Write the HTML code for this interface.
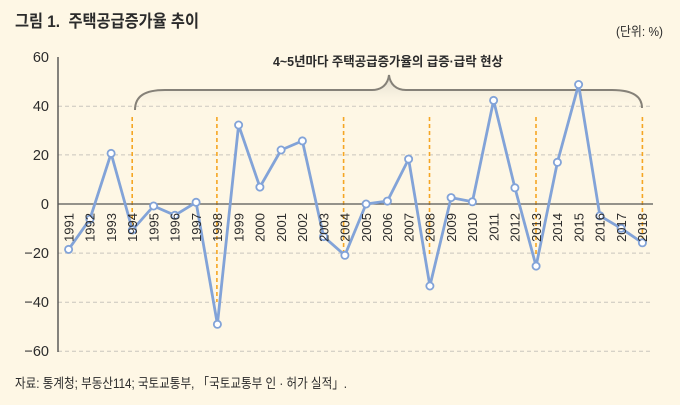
<!DOCTYPE html>
<html><head><meta charset="utf-8"><style>
html,body{margin:0;padding:0;background:#fef7e5;}
svg{display:block;}
text{font-family:"Liberation Sans","Noto Sans CJK KR",sans-serif;fill:#2b2b2b;}
</style></head><body>
<svg width="680" height="405" viewBox="0 0 680 405" xmlns="http://www.w3.org/2000/svg">
<defs>
<linearGradient id="bg" x1="0" y1="0" x2="0" y2="1">
<stop offset="0" stop-color="#cfcbc0" stop-opacity="0.75"/>
<stop offset="1" stop-color="#fef7e5" stop-opacity="0"/>
</linearGradient>
</defs>
<rect width="680" height="405" fill="#fef7e5"/>
<text x="15" y="27" font-size="17" font-weight="bold" textLength="184" lengthAdjust="spacingAndGlyphs">그림 1.&#160; 주택공급증가율 추이</text>
<text x="616" y="36" font-size="13" textLength="47" lengthAdjust="spacingAndGlyphs" fill="#444">(단위: %)</text>

<!-- grid -->
<g stroke="#c9c6bd" stroke-width="1" stroke-dasharray="4,3">
<line x1="58" y1="106.2" x2="653" y2="106.2"/>
<line x1="58" y1="154.9" x2="653" y2="154.9"/>
<line x1="58" y1="253.1" x2="653" y2="253.1"/>
<line x1="58" y1="302.2" x2="653" y2="302.2"/>
<line x1="58" y1="351.3" x2="653" y2="351.3"/>
</g>

<!-- brace -->
<path d="M135,110 C135,96 145,90 165,90 L372,90 C382,90 388,84 389,75 C390,84 396,90 406,90 L612,90 C632,90 642,96 642,108 L642,110 L135,110 Z" fill="url(#bg)" stroke="none"/>
<path d="M135,110 C135,96 145,90 165,90 L372,90 C382,90 388,84 389,75 C390,84 396,90 406,90 L612,90 C632,90 642,96 642,108" fill="none" stroke="#858178" stroke-width="2"/>
<text x="273" y="66" font-size="13" font-weight="bold" textLength="230" lengthAdjust="spacingAndGlyphs">4~5년마다 주택공급증가율의 급증·급락 현상</text>

<!-- orange -->
<g stroke="#f5a623" stroke-width="1.6" stroke-dasharray="4,3">
<line x1="132.2" y1="117" x2="132.2" y2="230"/>
<line x1="216.9" y1="117" x2="216.9" y2="302"/>
<line x1="343.6" y1="117" x2="343.6" y2="255"/>
<line x1="429.5" y1="117" x2="429.5" y2="255"/>
<line x1="536" y1="117" x2="536" y2="255"/>
<line x1="642.4" y1="117" x2="642.4" y2="243"/>
</g>

<!-- axes -->
<line x1="58" y1="57" x2="58" y2="352" stroke="#444" stroke-width="1.3"/>
<line x1="58" y1="204" x2="653" y2="204" stroke="#555" stroke-width="1.3"/>

<g font-size="14.5" text-anchor="end" fill="#333">
<text x="49" y="62">60</text>
<text x="49" y="111">40</text>
<text x="49" y="160">20</text>
<text x="49" y="209">0</text>
<text x="49" y="258">−20</text>
<text x="49" y="307">−40</text>
<text x="49" y="356">−60</text>
</g>

<!-- series -->
<polyline fill="none" stroke="#82a3d8" stroke-width="2.8" stroke-linejoin="round" points="68.6,249.4 89.9,219.2 111.1,153.4 132.4,230 153.6,206 174.9,215.3 196.1,202.3 217.4,324.3 238.6,125 259.9,187.1 281.1,150 302.4,140.9 323.6,236.6 344.9,255.3 366.1,204 387.4,201.1 408.6,159.1 429.9,286 451.1,197.6 472.4,201.8 493.6,100.4 514.9,187.8 536.1,266.1 557.4,162.3 578.6,84.5 599.9,215.8 621.1,228.3 642.4,242.8"/>
<g fill="#ffffff" stroke="#82a3d8" stroke-width="1.8">
<circle cx="68.6" cy="249.4" r="3.6"/><circle cx="89.9" cy="219.2" r="3.6"/><circle cx="111.1" cy="153.4" r="3.6"/><circle cx="132.4" cy="230" r="3.6"/><circle cx="153.6" cy="206" r="3.6"/><circle cx="174.9" cy="215.3" r="3.6"/><circle cx="196.1" cy="202.3" r="3.6"/><circle cx="217.4" cy="324.3" r="3.6"/><circle cx="238.6" cy="125" r="3.6"/><circle cx="259.9" cy="187.1" r="3.6"/><circle cx="281.1" cy="150" r="3.6"/><circle cx="302.4" cy="140.9" r="3.6"/><circle cx="323.6" cy="236.6" r="3.6"/><circle cx="344.9" cy="255.3" r="3.6"/><circle cx="366.1" cy="204" r="3.6"/><circle cx="387.4" cy="201.1" r="3.6"/><circle cx="408.6" cy="159.1" r="3.6"/><circle cx="429.9" cy="286" r="3.6"/><circle cx="451.1" cy="197.6" r="3.6"/><circle cx="472.4" cy="201.8" r="3.6"/><circle cx="493.6" cy="100.4" r="3.6"/><circle cx="514.9" cy="187.8" r="3.6"/><circle cx="536.1" cy="266.1" r="3.6"/><circle cx="557.4" cy="162.3" r="3.6"/><circle cx="578.6" cy="84.5" r="3.6"/><circle cx="599.9" cy="215.8" r="3.6"/><circle cx="621.1" cy="228.3" r="3.6"/><circle cx="642.4" cy="242.8" r="3.6"/>
</g>

<!-- x labels -->
<g font-size="13" text-anchor="end" fill="#333">
<text transform="translate(73.3,213) rotate(-90)">1991</text>
<text transform="translate(94.6,213) rotate(-90)">1992</text>
<text transform="translate(115.8,213) rotate(-90)">1993</text>
<text transform="translate(137.1,213) rotate(-90)">1994</text>
<text transform="translate(158.3,213) rotate(-90)">1995</text>
<text transform="translate(179.6,213) rotate(-90)">1996</text>
<text transform="translate(200.8,213) rotate(-90)">1997</text>
<text transform="translate(222.1,213) rotate(-90)">1998</text>
<text transform="translate(243.3,213) rotate(-90)">1999</text>
<text transform="translate(264.6,213) rotate(-90)">2000</text>
<text transform="translate(285.8,213) rotate(-90)">2001</text>
<text transform="translate(307.1,213) rotate(-90)">2002</text>
<text transform="translate(328.3,213) rotate(-90)">2003</text>
<text transform="translate(349.6,213) rotate(-90)">2004</text>
<text transform="translate(370.8,213) rotate(-90)">2005</text>
<text transform="translate(392.1,213) rotate(-90)">2006</text>
<text transform="translate(413.3,213) rotate(-90)">2007</text>
<text transform="translate(434.6,213) rotate(-90)">2008</text>
<text transform="translate(455.8,213) rotate(-90)">2009</text>
<text transform="translate(477.1,213) rotate(-90)">2010</text>
<text transform="translate(498.3,213) rotate(-90)">2011</text>
<text transform="translate(519.6,213) rotate(-90)">2012</text>
<text transform="translate(540.8,213) rotate(-90)">2013</text>
<text transform="translate(562.1,213) rotate(-90)">2014</text>
<text transform="translate(583.3,213) rotate(-90)">2015</text>
<text transform="translate(604.6,213) rotate(-90)">2016</text>
<text transform="translate(625.8,213) rotate(-90)">2017</text>
<text transform="translate(647.1,213) rotate(-90)">2018</text>
</g>

<text x="15" y="388" font-size="13.5" textLength="332" lengthAdjust="spacingAndGlyphs" fill="#333">자료: 통계청; 부동산114; 국토교통부, 「국토교통부 인 · 허가 실적」.</text>
</svg>
</body></html>
